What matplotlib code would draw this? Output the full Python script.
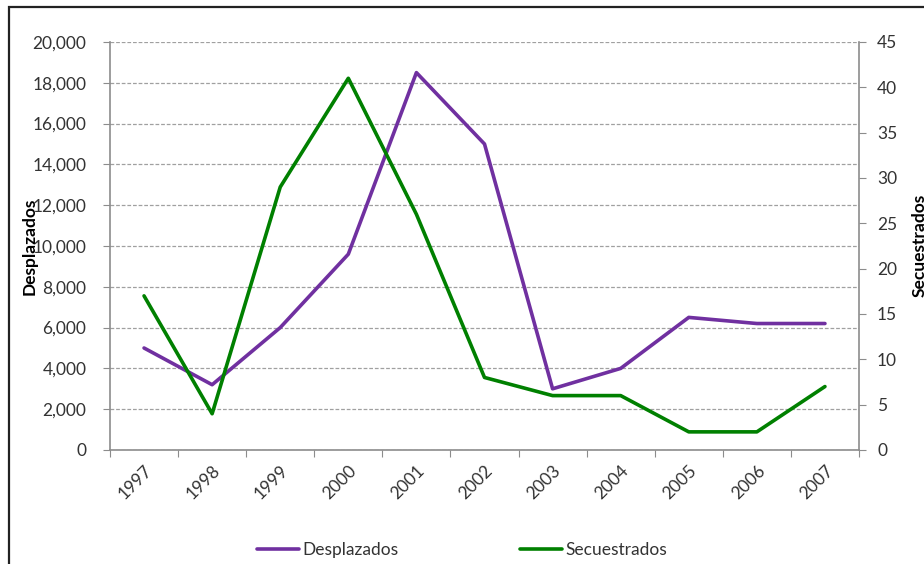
import matplotlib.pyplot as plt
from matplotlib.patches import Rectangle
import numpy as np

plt.rcParams['font.family'] = ['Lato', 'DejaVu Sans']

years = ['1997', '1998', '1999', '2000', '2001', '2002', '2003', '2004', '2005', '2006', '2007']
desplazados = [5000, 3200, 6000, 9600, 18500, 15000, 3000, 4000, 6500, 6200, 6200]
secuestrados = [17, 4, 29, 41, 26, 8, 6, 6, 2, 2, 7]

purple = '#7030A0'
green = '#008000'
axis_grey = '#8c8c8c'
text_col = '#333333'
fs = 12.5

fig = plt.figure(figsize=(9.24, 5.64), dpi=100)
ax = fig.add_axes([110/924, 1 - 450/564, (859 - 110)/924, (450 - 42)/564])
ax2 = ax.twinx()

x = np.arange(len(years))
l1, = ax.plot(x, desplazados, color=purple, lw=2.6, solid_capstyle='round', label='Desplazados', zorder=3)
l2, = ax2.plot(x, secuestrados, color=green, lw=2.6, solid_capstyle='round', label='Secuestrados', zorder=3)

ax.set_xlim(-0.5, len(years) - 0.5)
ax.set_ylim(0, 20000)
ax2.set_ylim(0, 45)
ax.set_yticks(np.arange(0, 20001, 2000))
ax.set_yticklabels([f'{v:,}' for v in range(0, 20001, 2000)])
ax2.set_yticks(np.arange(0, 46, 5))

# category boundaries get tick marks, labels sit at the centres
ax.set_xticks(np.arange(-0.5, len(years), 1))
ax.set_xticklabels([])
ax.set_xticks(x, minor=True)
ax.set_xticklabels(years, minor=True, rotation=45, ha='right', rotation_mode='anchor')
ax.tick_params(axis='x', which='minor', length=0, pad=9, labelsize=fs, labelcolor=text_col)
ax.tick_params(axis='x', which='major', length=5, color=axis_grey)
ax.tick_params(axis='y', length=5, color=axis_grey, labelsize=fs, labelcolor=text_col, pad=12)
ax2.tick_params(axis='y', length=5, color=axis_grey, labelsize=fs, labelcolor=text_col, pad=8)

ax.grid(axis='y', color='#a0a0a0', ls=(0, (3, 1.5)), lw=0.9)
ax.set_axisbelow(True)

for a in (ax, ax2):
    for s in a.spines.values():
        s.set_visible(False)
ax.spines['left'].set_visible(True)
ax.spines['bottom'].set_visible(True)
ax2.spines['right'].set_visible(True)
for s in (ax.spines['left'], ax.spines['bottom'], ax2.spines['right']):
    s.set_color(axis_grey)
    s.set_linewidth(1.2)

fig.text(30/924, 1 - 246/564, 'Desplazados', rotation=90, ha='center', va='center',
         fontsize=fs, fontweight='bold', color='black')
fig.text(920/924, 1 - 245/564, 'Secuestrados', rotation=90, ha='center', va='center',
         fontsize=fs, fontweight='bold', color='black')

fig.legend(handles=[l1, l2], loc='center', bbox_to_anchor=(462/924, 1 - 550/564), ncol=2,
           frameon=False, fontsize=fs, handlelength=2.4, handletextpad=0.2,
           columnspacing=7.0, labelcolor=text_col)

# outer chart frame
fig.patches.append(Rectangle((9/924, -0.1), 1.2, 1 - 7/564 + 0.1, transform=fig.transFigure,
                             fill=False, edgecolor='#222222', lw=1.6))

fig.savefig('out.png', dpi=100)
